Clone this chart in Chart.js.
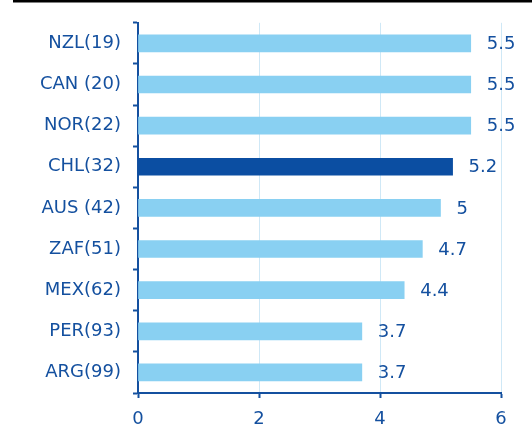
<!DOCTYPE html>
<html>
<head>
<meta charset="utf-8">
<script src="https://cdn.jsdelivr.net/npm/chart.js@4.4.0/dist/chart.umd.min.js"></script>
<style>
  html, body { margin: 0; padding: 0; background: #fff; }
  #wrap { width: 532px; height: 439px; position: relative; }
</style>
</head>
<body>
<div id="wrap"><canvas id="myChart"></canvas></div>
<script>
// donnees du graphique
const countries = ['NZL(19)', 'CAN (20)', 'NOR(22)', 'CHL(32)', 'AUS (42)', 'ZAF(51)', 'MEX(62)', 'PER(93)', 'ARG(99)'];
const scores = [5.5, 5.5, 5.5, 5.2, 5, 4.7, 4.4, 3.7, 3.7];
const highlight = 'CHL(32)';
const xTicks = [0, 2, 4, 6];

const textBlue = '#14509f';
const lightBar = '#89d0f2';
const darkBar = '#0b4ea2';
const fontFam = '"DejaVu Sans"';

const barColors = countries.map(c => c === highlight ? darkBar : lightBar);

// ligne noire en haut + valeurs a droite des barres
const extras = {
  id: 'extras',
  afterDraw(chart) {
    const ctx = chart.ctx;
    ctx.save();
    ctx.fillStyle = '#000';
    ctx.fillRect(13, 0, chart.width - 13, 2.5);
    ctx.fillStyle = textBlue;
    ctx.font = '18px ' + fontFam;
    ctx.textBaseline = 'middle';
    const meta = chart.getDatasetMeta(0);
    meta.data.forEach((bar, i) => {
      ctx.fillText(String(scores[i]), bar.x + 16, bar.y + 1);
    });
    ctx.restore();
  }
};

new Chart(document.getElementById('myChart'), {
  type: 'bar',
  data: {
    labels: countries,
    datasets: [{
      data: scores,
      backgroundColor: barColors,
      barThickness: 17
    }]
  },
  options: {
    indexAxis: 'y',
    responsive: true,
    maintainAspectRatio: false,
    animation: false,
    layout: { padding: { top: 17, right: 31, left: 0, bottom: 0 } },
    plugins: { legend: { display: false }, tooltip: { enabled: false } },
    scales: {
      x: {
        min: 0,
        max: 6,
        afterBuildTicks: axis => { axis.ticks = xTicks.map(v => ({ value: v })); },
        afterFit: axis => { axis.height = 46; },
        grid: { color: '#cfe8f6', lineWidth: 1, tickColor: textBlue, tickLength: 5, tickWidth: 2 },
        border: { color: textBlue, width: 2 },
        ticks: { color: textBlue, font: { family: 'DejaVu Sans', size: 18 }, padding: 11 }
      },
      y: {
        afterFit: axis => { axis.width = 138; },
        grid: { drawOnChartArea: false, tickColor: textBlue, tickLength: 5, tickWidth: 2 },
        border: { color: textBlue, width: 2 },
        ticks: { color: textBlue, font: { family: 'DejaVu Sans', size: 18 }, padding: 12 }
      }
    }
  },
  plugins: [extras]
});
</script>
</body>
</html>
